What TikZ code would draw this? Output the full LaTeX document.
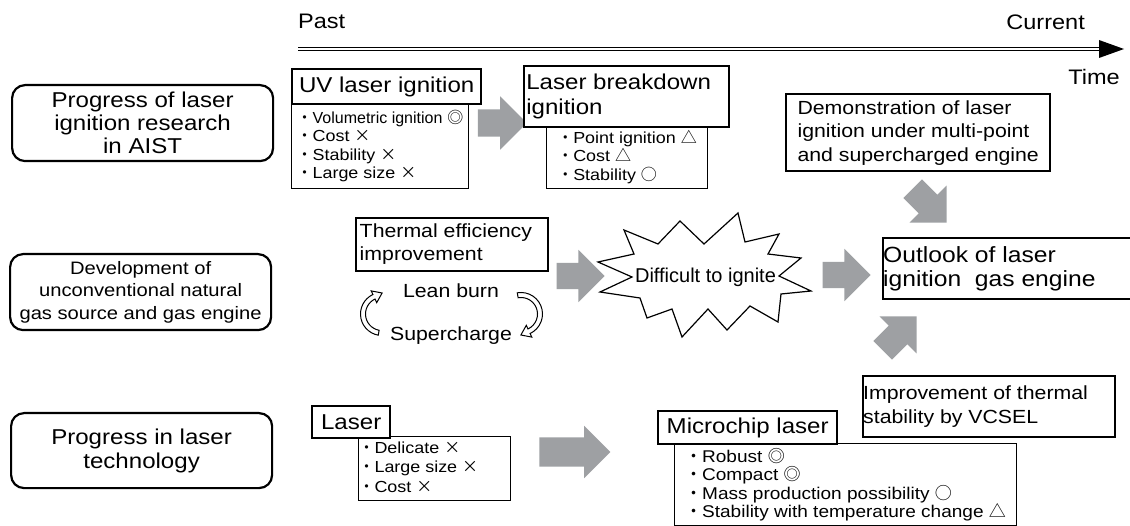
\documentclass[tikz,border=0pt]{standalone}
\usepackage{fontspec}
\setmainfont{Liberation Sans}[FakeStretch=1.12]
\newfontfamily\plainfont{Liberation Sans}
\newfontfamily\cjkfont{Noto Sans CJK JP}
\usetikzlibrary{shapes.arrows}
\definecolor{arrowgray}{RGB}{158,160,163}
\newcommand\symdbl{{\cjkfont ◎}}
\newcommand\symcir{{\cjkfont ○}}
\newcommand\symtri{{\cjkfont △}}
\newcommand\symx{{\cjkfont ×}}
\newcommand\symbul{{\cjkfont ・}}
\newcommand\fsz[2]{\fontsize{#1}{#2}\selectfont}
\begin{document}
\begin{tikzpicture}[x=1pt,y=-1pt,
  rbox/.style={draw, line width=2.2pt, rounded corners=13pt, align=center, minimum width=261pt, minimum height=76pt, inner sep=0pt, anchor=north west},
  tbox/.style={draw, line width=2.4pt, fill=white, align=left, anchor=north west, inner sep=0pt},
  ibox/.style={draw, line width=1.1pt, fill=white, align=left, anchor=north west, inner sep=0pt, font=\fsz{16}{18.5}},
  gar/.style={single arrow, fill=arrowgray, inner xsep=0pt, inner ysep=13pt, single arrow head extend=13pt, minimum width=52pt, minimum height=48pt},
  lbl/.style={inner sep=0pt, font=\fsz{21}{24}}
]
\path[fill=white] (0,0) rectangle (1130,526);
\useasboundingbox (0,0) rectangle (1130,526);

% timeline
\node[lbl, anchor=base west] (past) at (298,29) {Past};
\node[lbl, anchor=base east] (current) at (1085,30) {Current};
\node[lbl, anchor=base east] (time) at (1120,85) {Time};
\coordinate (tl0) at (298,49);
\coordinate (tl1) at (1101,49);
\draw[double, double distance=1.8pt, line width=1.3pt] (tl0) -- (tl1);
\fill (1099,40) -- (1124,49) -- (1099,58) -- cycle;

% left boxes
\node[rbox, font=\fsz{21.5}{23}] (aist) at (11,84) {Progress of laser\\ignition research\\in AIST};
\node[rbox, font=\fsz{18}{22.5}] (gas) at (9,253) {Development of\\unconventional natural\\gas source and gas engine};
\node[rbox, font=\fsz{21.5}{24}, minimum height=75pt] (ltech) at (10,412) {Progress in laser\\technology};

% gray block arrows
\node[gar, minimum height=49pt, minimum width=53pt, inner ysep=13.5pt] (ga1) at (495.5,123) {};
\node[gar] (ga2) at (574,276) {};
\node[gar] (ga3) at (840,275) {};
\node[gar, rotate=-45] (ga4) at (925,201) {};
\node[gar, rotate=45] (ga5) at (895,338) {};
\node[gar, minimum height=71pt, minimum width=52pt, inner ysep=14.5pt, single arrow head extend=11.5pt] (ga6) at (567.5,452) {};

% UV laser ignition
\node[ibox, minimum width=177pt, minimum height=85pt] (uvitems) at (291,103)
  {\symbul{\plainfont Volumetric ignition} \symdbl\\\symbul Cost \symx\\\symbul Stability \symx\\\symbul Large size \symx};
\node[tbox, minimum width=189pt, minimum height=35pt, font=\fsz{21.5}{24}] (uv) at (291,68) {UV laser ignition};

% Laser breakdown ignition
\node[ibox, minimum width=161pt, minimum height=63pt] (lbitems) at (546,125)
  {\symbul Point ignition \symtri\\\symbul Cost \symtri\\\symbul Stability \symcir};
\node[tbox, minimum width=205pt, minimum height=61pt, font=\fsz{21.5}{25}] (lb) at (523,65) {Laser breakdown\\ignition\phantom{ breakdown}};

% demonstration
\node[tbox, minimum width=264pt, minimum height=77pt, font=\fsz{19}{23.5}] (demo) at (785,93)
  {Demonstration of laser\\ignition under multi-point\\and supercharged engine};

% outlook
\node[tbox, minimum width=233pt, minimum height=61pt, font=\fsz{22}{24.5}] (outlook) at (882,237)
  {Outlook of laser\phantom{ engine}\\ignition\ \ gas engine};

% thermal efficiency
\node[tbox, line width=1.6pt, minimum width=192pt, minimum height=53pt, font=\fsz{19}{23.5}] (thermal) at (355,217)
  {Thermal efficiency\\improvement\phantom{ efficie}};
\node[lbl, anchor=base, font=\fsz{19}{22}] (lean) at (451,298) {Lean burn};
\node[lbl, anchor=base, font=\fsz{19}{22}] (super) at (451,341) {Supercharge};

% curved hollow arrows
\draw[line width=1pt, fill=white]
  plot[smooth, domain=100:245, samples=16, variable=\t] ({382+21.5*cos(\t)},{314+21.5*sin(\t)})
  -- ({382+25.5*cos(245)},{314+25.5*sin(245)})
  -- (382.1,293.0)
  -- ({382+12.5*cos(245)},{314+12.5*sin(245)})
  -- plot[smooth, domain=245:100, samples=16, variable=\t] ({382+16.5*cos(\t)},{314+16.5*sin(\t)})
  -- cycle;
\draw[line width=1pt, fill=white]
  plot[smooth, domain=-100:65, samples=16, variable=\t] ({521+21.5*cos(\t)},{314+21.5*sin(\t)})
  -- ({521+25.5*cos(65)},{314+25.5*sin(65)})
  -- (520.9,335.0)
  -- ({521+12.5*cos(65)},{314+12.5*sin(65)})
  -- plot[smooth, domain=65:-100, samples=16, variable=\t] ({521+16.5*cos(\t)},{314+16.5*sin(\t)})
  -- cycle;

% star
\draw[line width=1.2pt, fill=white]
  (632,277) -- (598,262) -- (634,254) -- (624,230) -- (658,244) -- (680,221)
  -- (704,244) -- (738,213) -- (745,242) -- (779,234) -- (768,254) -- (801,258)
  -- (779,276) -- (811,291) -- (781,294) -- (778,322) -- (750,306) -- (727,330)
  -- (708,309) -- (682,337) -- (672,309) -- (647,318) -- (640,298) -- (600,292) -- cycle;
\node[lbl, anchor=base, font=\plainfont\fsz{20}{23}] (star) at (705.5,283) {Difficult to ignite};

% bottom row
\node[ibox, minimum width=133pt, minimum height=64pt, font=\fsz{16}{19.5}] (laseritems) at (358,436)
  {\symbul Delicate \symx\\\symbul Large size \symx\\\symbul Cost \symx\phantom{ size Larg}};
\node[tbox, minimum width=78pt, minimum height=32pt, font=\fsz{21.5}{24}] (laser) at (311,405) {Laser};

\node[ibox, minimum width=342pt, minimum height=82pt, font=\fsz{17}{18.5}] (mcitems) at (674,443)
  {\symbul Robust \symdbl\\\symbul Compact \symdbl\\\symbul Mass production possibility \symcir\\\symbul Stability with temperature change \symtri};
\node[tbox, minimum width=179pt, minimum height=33pt, font=\fsz{21.5}{24}] (mc) at (657,410) {Microchip laser};

\node[tbox, minimum width=245pt, minimum height=61pt, font=\fsz{19}{24}] (vcsel) at (862,375)
  {Improvement of thermal\\stability by VCSEL\phantom{ thermal}};
\end{tikzpicture}
\end{document}
